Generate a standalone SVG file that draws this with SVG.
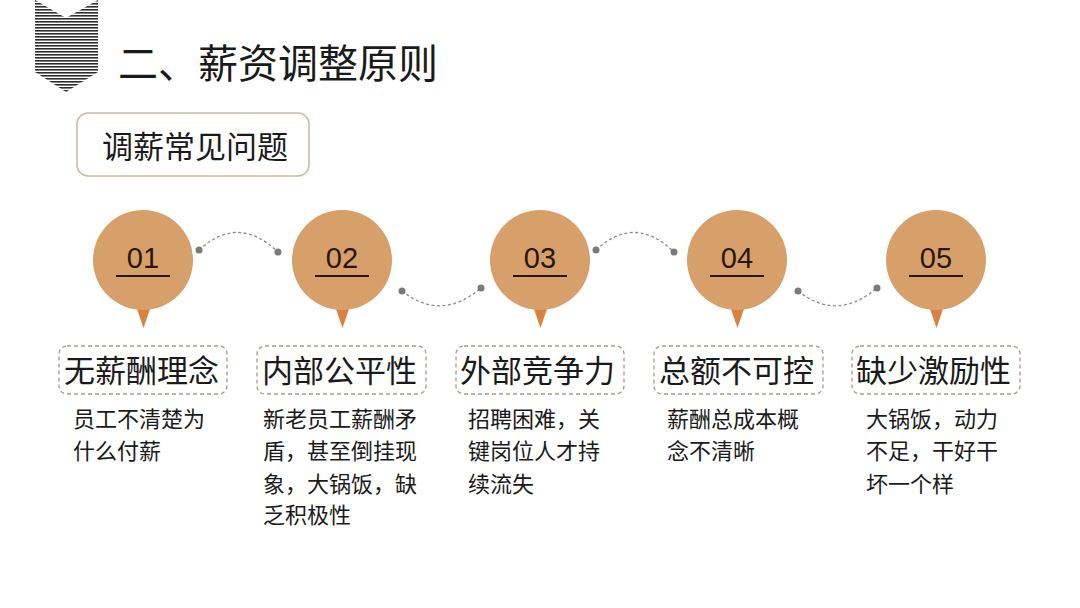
<svg xmlns="http://www.w3.org/2000/svg" width="1080" height="608" viewBox="0 0 1080 608">
<defs>
<pattern id="stripes" patternUnits="userSpaceOnUse" width="6" height="3">
<rect x="0" y="0" width="6" height="1.6" fill="#2e2e2e"/>
</pattern>
<style>
.cjk{font-family:"Noto Sans CJK SC","Noto Sans",sans-serif;fill:#1a1a1a}
.title{font-size:40px}
.sub{font-size:31px}
.lab{font-size:31px}
.desc{font-size:22px}
.num{font-family:"Liberation Sans",Arial,sans-serif;font-size:29px;fill:#2a1608;text-anchor:middle}
.circ{fill:#D7A06A}
.tip{fill:#D9813E}
.ul{stroke:#2a1608;stroke-width:2.2}
.lbox{fill:none;stroke:#a89a8c;stroke-width:1.3;stroke-dasharray:4 3}
.conn{fill:none;stroke:#8a8a8a;stroke-width:1.3;stroke-dasharray:3 2.5}
.dot{fill:#7a7a7a}
</style>
</defs>
<rect width="1080" height="608" fill="#ffffff"/>
<g id="header">
<path d="M35,0 L66,18 L98,0 L98,72 L66,92 L35,72 Z" fill="url(#stripes)"/>
<text class="cjk title" x="118" y="78">二、薪资调整原则</text>
</g>
<g id="subtitle">
<rect x="77" y="113" width="232" height="63" rx="11" fill="#ffffff" stroke="#cdbba4" stroke-width="1.6"/>
<text class="cjk sub" x="102" y="158">调薪常见问题</text>
</g>
<g id="connectors">
<path class="conn" d="M199,250 Q238,214 278,252"/>
<path class="conn" d="M402,291 Q441,322 481,288"/>
<path class="conn" d="M596,250 Q635,214 674,252"/>
<path class="conn" d="M798,291 Q837,322 877,288"/>
<circle class="dot" cx="199" cy="250" r="3.5"/>
<circle class="dot" cx="278" cy="252" r="3.5"/>
<circle class="dot" cx="402" cy="291" r="3.5"/>
<circle class="dot" cx="481" cy="288" r="3.5"/>
<circle class="dot" cx="596" cy="250" r="3.5"/>
<circle class="dot" cx="674" cy="252" r="3.5"/>
<circle class="dot" cx="798" cy="291" r="3.5"/>
<circle class="dot" cx="877" cy="288" r="3.5"/>
</g>
<g id="node1">
<path class="tip" d="M136,306 L151,306 L143.5,328 Z"/>
<circle class="circ" cx="143" cy="260" r="50"/>
<text class="num" x="143" y="268">01</text>
<line class="ul" x1="116" y1="276" x2="170" y2="276"/>
<rect class="lbox" x="59" y="346" width="168" height="48" rx="8"/>
<text class="cjk lab" x="64" y="382">无薪酬理念</text>
<text class="cjk desc" x="73" y="427">员工不清楚为</text>
<text class="cjk desc" x="73" y="459">什么付薪</text>
</g>
<g id="node2">
<path class="tip" d="M335,306 L350,306 L342.5,328 Z"/>
<circle class="circ" cx="342" cy="260" r="50"/>
<text class="num" x="342" y="268">02</text>
<line class="ul" x1="315" y1="276" x2="369" y2="276"/>
<rect class="lbox" x="257" y="346" width="169" height="48" rx="8"/>
<text class="cjk lab" x="262" y="382">内部公平性</text>
<text class="cjk desc" x="263" y="427">新老员工薪酬矛</text>
<text class="cjk desc" x="263" y="459">盾，甚至倒挂现</text>
<text class="cjk desc" x="263" y="492">象，大锅饭，缺</text>
<text class="cjk desc" x="263" y="523">乏积极性</text>
</g>
<g id="node3">
<path class="tip" d="M533,306 L548,306 L540.5,328 Z"/>
<circle class="circ" cx="540" cy="260" r="50"/>
<text class="num" x="540" y="268">03</text>
<line class="ul" x1="513" y1="276" x2="567" y2="276"/>
<rect class="lbox" x="456" y="346" width="168" height="48" rx="8"/>
<text class="cjk lab" x="460" y="382">外部竞争力</text>
<text class="cjk desc" x="468" y="427">招聘困难，关</text>
<text class="cjk desc" x="468" y="459">键岗位人才持</text>
<text class="cjk desc" x="468" y="492">续流失</text>
</g>
<g id="node4">
<path class="tip" d="M730,306 L745,306 L737.5,328 Z"/>
<circle class="circ" cx="737" cy="260" r="50"/>
<text class="num" x="737" y="268">04</text>
<line class="ul" x1="710" y1="276" x2="764" y2="276"/>
<rect class="lbox" x="654" y="346" width="169" height="48" rx="8"/>
<text class="cjk lab" x="659" y="382">总额不可控</text>
<text class="cjk desc" x="667" y="427">薪酬总成本概</text>
<text class="cjk desc" x="667" y="459">念不清晰</text>
</g>
<g id="node5">
<path class="tip" d="M929,306 L944,306 L936.5,328 Z"/>
<circle class="circ" cx="936" cy="260" r="50"/>
<text class="num" x="936" y="268">05</text>
<line class="ul" x1="909" y1="276" x2="963" y2="276"/>
<rect class="lbox" x="852" y="346" width="168" height="48" rx="8"/>
<text class="cjk lab" x="856" y="382">缺少激励性</text>
<text class="cjk desc" x="866" y="427">大锅饭，动力</text>
<text class="cjk desc" x="866" y="459">不足，干好干</text>
<text class="cjk desc" x="866" y="492">坏一个样</text>
</g>
</svg>
